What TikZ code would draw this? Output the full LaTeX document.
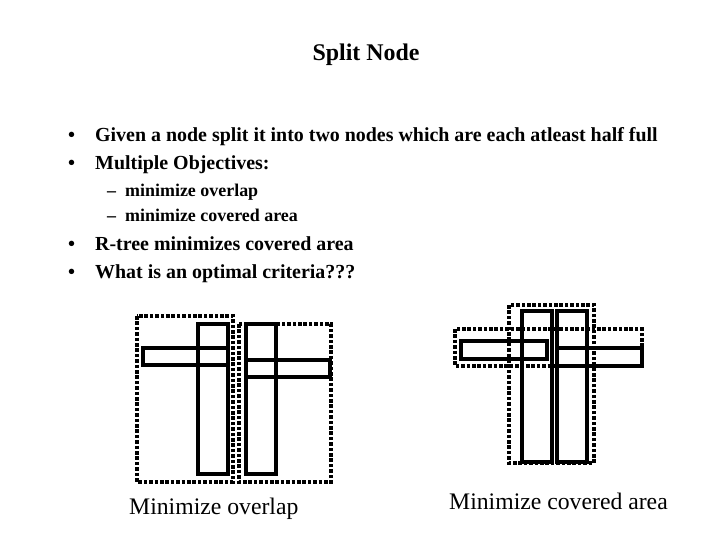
\documentclass[tikz,border=0pt]{standalone}
\usepackage{fontspec}
\setmainfont{Liberation Serif}
\begin{document}
\begin{tikzpicture}[x=1bp,y=-1bp,
  solidbox/.style={draw=black,line width=3.6bp},
  dotbox/.style={draw=black,line width=3.8bp,dash pattern=on 3.6bp off 1.8bp},
  bul/.style={anchor=base west,inner sep=0pt,font=\fontsize{20}{22}\selectfont\bfseries},
  subbul/.style={anchor=base west,inner sep=0pt,font=\fontsize{18}{20}\selectfont\bfseries},
  captext/.style={anchor=base west,inner sep=0pt,font=\fontsize{23.8}{26}\selectfont}]
\useasboundingbox (0,0) rectangle (720,540);
% title
\node[anchor=base,inner sep=0pt,font=\fontsize{24}{26}\selectfont\bfseries] (title) at (366,61) {Split Node};
% bullets
\node[bul] (b1d) at (68,142) {•};
\node[bul] (b1) at (95,142) {Given a node split it into two nodes which are each atleast half full};
\node[bul] (b2d) at (68,170) {•};
\node[bul] (b2) at (95,170) {Multiple Objectives:};
\node[subbul] (s1d) at (107,197) {–};
\node[subbul] (s1) at (125,197) {minimize overlap};
\node[subbul] (s2d) at (107,222) {–};
\node[subbul] (s2) at (125,222) {minimize covered area};
\node[bul] (b3d) at (68,251) {•};
\node[bul] (b3) at (95,251) {R-tree minimizes covered area};
\node[bul] (b4d) at (68,279) {•};
\node[bul] (b4) at (95,279) {What is an optimal criteria???};
% left figure
\draw[dotbox] (137,316) rectangle (233,482);
\draw[dotbox] (239,324) rectangle (331,482);
\draw[solidbox] (198,324) rectangle (228,474);
\draw[solidbox] (143,348) rectangle (228,365);
\draw[solidbox] (246,324) rectangle (276,474);
\draw[solidbox] (246,360) rectangle (330,377);
% right figure
\draw[dotbox] (509,305) rectangle (594,463);
\draw[dotbox] (455,329) rectangle (642,366);
\draw[solidbox] (522,311) rectangle (552,462);
\draw[solidbox] (557,311) rectangle (587,462);
\draw[solidbox] (461,341) rectangle (547,359);
\draw[solidbox] (557,348) rectangle (642,366);
% captions
\node[captext] (c1) at (129,514) {Minimize overlap};
\node[captext] (c2) at (449,509) {Minimize covered area};
\end{tikzpicture}
\end{document}
